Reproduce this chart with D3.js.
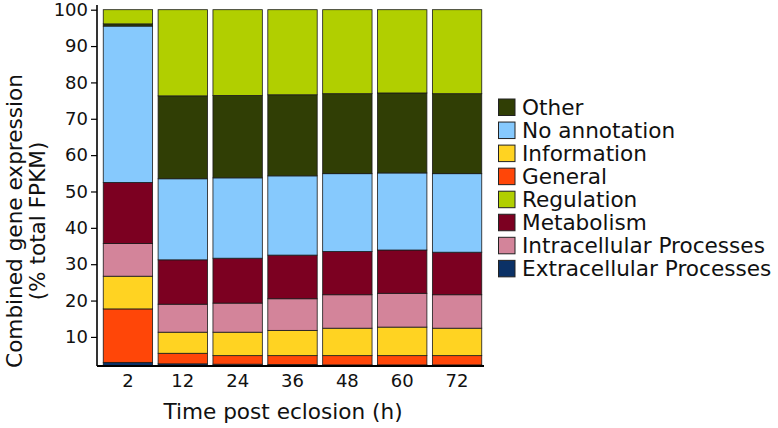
<!DOCTYPE html>
<html><head><meta charset="utf-8">
<script src="https://cdn.jsdelivr.net/npm/d3@7"></script>
<style>body{margin:0;background:#fff}svg{display:block;font-family:"DejaVu Sans",sans-serif}</style>
</head><body><svg id="c" width="778" height="428"></svg>
<script>
const timepoints = ["2","12","24","36","48","60","72"];
const extracellular = [3.0, 2.6, 2.5, 2.4, 2.3, 2.3, 2.3];
const general       = [14.7, 2.9, 2.35, 2.45, 2.55, 2.55, 2.55];
const information   = [9.0, 5.8, 6.45, 6.95, 7.55, 7.85, 7.55];
const intracellular = [9.0, 7.7, 8.0, 8.7, 9.2, 9.3, 9.2];
const metabolism    = [16.8, 12.2, 12.35, 12.0, 11.9, 11.9, 11.7];
const noAnnotation  = [43.0, 22.3, 22.1, 21.8, 21.4, 21.2, 21.6];
const other         = [0.6, 22.8, 22.65, 22.3, 22.0, 22.0, 22.0];
const regulation    = [3.9, 23.7, 23.6, 23.4, 23.1, 22.9, 23.1];
const yTicks = [10,20,30,40,50,60,70,80,90,100];

const stackOrder = [
  {key:"Extracellular Processes", vals:extracellular, color:"#0b3166"},
  {key:"General", vals:general, color:"#ff4608"},
  {key:"Information", vals:information, color:"#ffd322"},
  {key:"Intracellular Processes", vals:intracellular, color:"#d3849a"},
  {key:"Metabolism", vals:metabolism, color:"#7c0021"},
  {key:"No annotation", vals:noAnnotation, color:"#86c9fd"},
  {key:"Other", vals:other, color:"#303e05"},
  {key:"Regulation", vals:regulation, color:"#b1cf00"}
];
const legendOrder = ["Other","No annotation","Information","General","Regulation","Metabolism","Intracellular Processes","Extracellular Processes"];

const rows = timepoints.map((t,i)=>{const r={t}; stackOrder.forEach(s=>r[s.key]=s.vals[i]); return r;});
const series = d3.stack().keys(stackOrder.map(s=>s.key))(rows);
const color = d3.scaleOrdinal().domain(stackOrder.map(s=>s.key)).range(stackOrder.map(s=>s.color));

const svg = d3.select("#c");
const x = d3.scaleBand().domain(timepoints).range([100.5,484.5]).paddingInner(0.1).paddingOuter(0.05);
const y = d3.scaleLinear().domain([2,100]).range([366,9.7]);

svg.append("defs").append("clipPath").attr("id","pc").append("rect")
  .attr("x",97).attr("y",0).attr("width",400).attr("height",366);

const g = svg.append("g").attr("clip-path","url(#pc)");
series.forEach(s=>{
  g.selectAll(null).data(s).enter().append("rect")
    .attr("x",d=>x(d.data.t))
    .attr("width",x.bandwidth())
    .attr("y",d=>y(d[1]))
    .attr("height",d=>Math.max(0,y(d[0])-y(d[1])))
    .attr("fill",color(s.key))
    .attr("stroke","#1a1a1a").attr("stroke-width",0.8);
});

// y axis
const ya = svg.append("g").attr("transform","translate(97,0)")
  .call(d3.axisLeft(y).tickValues(yTicks).tickSize(6).tickPadding(3));
ya.select(".domain").attr("d","M0,5V366").attr("stroke","#000").attr("stroke-width",1.6);
ya.selectAll(".tick line").attr("stroke","#000").attr("stroke-width",1.2);
ya.selectAll("text").attr("font-size",18).attr("fill","#111").attr("font-family","DejaVu Sans");

// x axis
const xa = svg.append("g").attr("transform","translate(0,366)")
  .call(d3.axisBottom(x).tickSize(0).tickPadding(8));
xa.select(".domain").attr("d","M97,0H484").attr("stroke","#000").attr("stroke-width",1.8);
xa.selectAll("text").attr("font-size",18).attr("fill","#111").attr("font-family","DejaVu Sans");

svg.append("text").attr("x",283).attr("y",419).attr("text-anchor","middle")
  .attr("font-size",21.6).attr("fill","#111").text("Time post eclosion (h)");

const yt = svg.append("text").attr("transform","translate(21.5,221) rotate(-90)")
  .attr("text-anchor","middle").attr("font-size",21.6).attr("fill","#111");
yt.append("tspan").attr("x",0).attr("dy",0).text("Combined gene expression");
yt.append("tspan").attr("x",0).attr("dy",23).text("(% total FPKM)");

// legend
const lg = svg.append("g").attr("transform","translate(498,98.5)");
legendOrder.forEach((k,i)=>{
  const r = lg.append("g").attr("transform",`translate(0,${i*23.05})`);
  r.append("rect").attr("x",0.5).attr("y",0.5).attr("width",16.5).attr("height",16.5)
    .attr("fill",color(k)).attr("stroke","#222").attr("stroke-width",1);
  r.append("text").attr("x",24).attr("y",16.5).attr("font-size",21.6).attr("fill","#111").text(k);
});
</script></body></html>
